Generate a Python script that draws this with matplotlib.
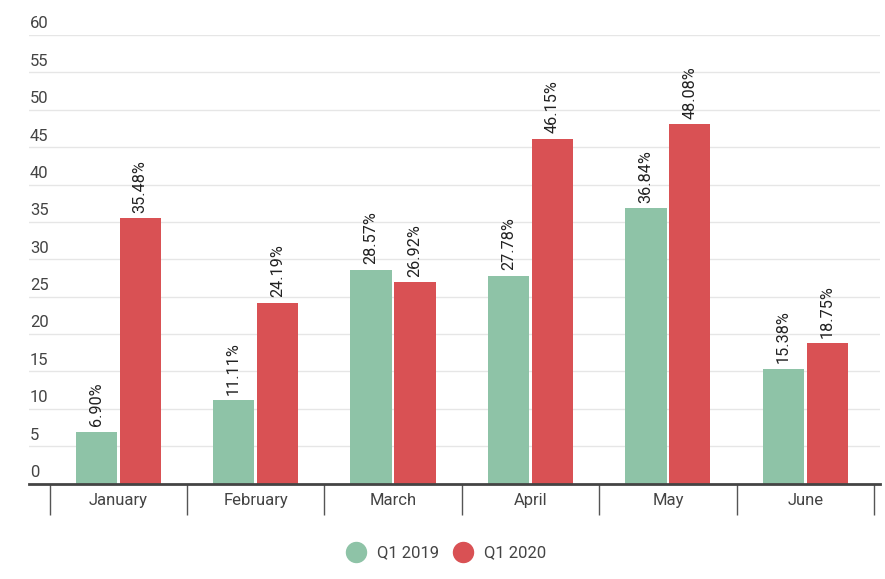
import numpy as np
from matplotlib import pyplot as plt
from matplotlib.lines import Line2D

months = ["January", "February", "March", "April", "May", "June"]
q1_2019 = [6.90, 11.11, 28.57, 27.78, 36.84, 15.38]
q1_2020 = [35.48, 24.19, 26.92, 46.15, 48.08, 18.75]
y_ticks = [0, 5, 10, 15, 20, 25, 30, 35, 40, 45, 50, 55, 60]

green = "#8ec3a7"
red = "#d95154"
grey = "#444444"

plt.rcParams['font.family'] = ['Roboto', 'DejaVu Sans']

fig = plt.figure(figsize=(8.85, 5.79), dpi=100)
W, H = 885, 579
left, right, bottom, top = 29, 880, 483.5, 35
ax = fig.add_axes([left / W, 1 - bottom / H, (right - left) / W, (bottom - top) / H])

x = np.arange(len(months))
cat = (874 - 49.5) / 6
ax.set_xlim(-0.5 - (49.5 - left) / cat, 5.5 + (right - 874) / cat)
ax.set_ylim(0, 60)

w = 0.3
ax.bar(x - 0.16, q1_2019, w, color=green, zorder=3)
ax.bar(x + 0.16, q1_2020, w, color=red, zorder=3)

for xs, vals in [(x - 0.16, q1_2019), (x + 0.16, q1_2020)]:
    for xi, v in zip(xs, vals):
        ax.annotate(f"{v:.2f}%", (xi, v), xytext=(0, 4), textcoords="offset points",
                    rotation=90, ha="center", va="bottom", fontsize=11.7,
                    color="#222222", annotation_clip=False)

# grid + y labels drawn above the lines
for v in y_ticks:
    if v > 0:
        ax.axhline(v, color="#e6e6e6", lw=1, zorder=1)
    ax.annotate(str(v), (0, v), xycoords=("axes fraction", "data"),
                xytext=(0.8, 4.7), textcoords="offset points",
                ha="left", va="baseline", fontsize=12, color=grey,
                annotation_clip=False)

ax.set_yticks([])
ax.set_xticks(x)
ax.set_xticklabels(months, fontsize=12, color=grey)
ax.tick_params(axis="x", which="major", length=0, pad=7)
ax.set_xticks(np.arange(-0.5, 6, 1), minor=True)
ax.tick_params(axis="x", which="minor", length=22.5, width=1, color="#555555", direction="out")

for s in ["top", "right", "left"]:
    ax.spines[s].set_visible(False)
ax.spines["bottom"].set_color(grey)
ax.spines["bottom"].set_linewidth(2)
ax.spines["bottom"].set_zorder(4)

handles = [Line2D([], [], marker="o", ls="", markersize=14.4, color=green),
           Line2D([], [], marker="o", ls="", markersize=14.4, color=red)]
fig.legend(handles, ["Q1 2019", "Q1 2020"], loc="center", ncol=2,
           bbox_to_anchor=(447 / W, 1 - 553 / H), frameon=False,
           fontsize=12, labelcolor=grey, handlelength=1.0,
           handletextpad=0.75, columnspacing=0.9)

fig.savefig("out.png", dpi=100)
